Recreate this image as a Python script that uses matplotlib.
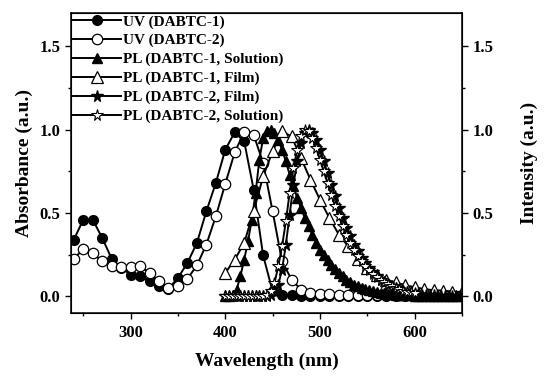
import matplotlib
matplotlib.use("Agg")
import matplotlib.pyplot as plt
import numpy as np

plt.rcParams['font.family'] = ['Liberation Serif', 'DejaVu Serif']
plt.rcParams['font.weight'] = 'bold'

# UV absorption (10 nm spacing)
uv_wl = [240, 250, 260, 270, 280, 290, 300, 310, 320, 330, 340, 350, 360, 370, 380,
         390, 400, 410, 420, 430, 440, 450, 460, 470, 480, 490, 500, 510, 520, 530,
         540, 550, 560, 570, 580, 590, 600]
uv1 = [0.34, 0.46, 0.46, 0.35, 0.225, 0.17, 0.13, 0.12, 0.09, 0.06, 0.045, 0.11, 0.20,
       0.32, 0.51, 0.68, 0.88, 0.985, 0.93, 0.64, 0.245, 0.03, 0.01, 0.005, 0.0, 0.0,
       0.0, 0.0, 0.0, 0.0, 0.0, 0.0, 0.0, 0.0, 0.0, 0.0, 0.0]
uv2 = [0.225, 0.283, 0.257, 0.21, 0.183, 0.175, 0.177, 0.18, 0.14, 0.09, 0.048, 0.06,
       0.105, 0.185, 0.31, 0.48, 0.675, 0.865, 0.985, 0.97, 0.80, 0.51, 0.21, 0.10, 0.04,
       0.02, 0.015, 0.012, 0.01, 0.01, 0.01, 0.01, 0.01, 0.01, 0.01, 0.01, 0.01]

# PL DABTC-1 film (10 nm spacing)
film1_wl = [400, 410, 420, 430, 440, 450, 460, 470, 480, 490, 500, 510, 520, 530, 540,
            550, 560, 570, 580, 590, 600, 610, 620, 630, 640, 650]
film1 = [0.14, 0.22, 0.32, 0.51, 0.72, 0.87, 0.99, 0.96, 0.83, 0.70, 0.58, 0.47, 0.37,
         0.30, 0.226, 0.17, 0.13, 0.10, 0.083, 0.067, 0.054, 0.044, 0.036, 0.034, 0.028,
         0.025]

# dense PL spectra (4 nm spacing)
pl_wl = [400, 404, 408, 412, 416, 420, 424, 428, 432, 436, 440, 444, 448, 452, 456,
         460, 464, 468, 472, 476, 480, 484, 488, 492, 496, 500, 504, 508, 512, 516,
         520, 524, 528, 532, 536, 540, 544, 548, 552, 556, 560, 564, 568, 572, 576,
         580, 584, 588, 592, 596, 600, 604, 608, 612, 616, 620, 624, 628, 632, 636,
         640, 644, 648]
sol1 = [0.0, 0.0, 0.01, 0.04, 0.12, 0.22, 0.33, 0.46, 0.62, 0.82, 0.95, 0.995, 1.0,
        0.98, 0.94, 0.88, 0.81, 0.73, 0.66, 0.59, 0.53, 0.47, 0.42, 0.37, 0.32, 0.28,
        0.25, 0.22, 0.19, 0.165, 0.14, 0.12, 0.10, 0.085, 0.07, 0.06, 0.05, 0.042,
        0.035, 0.03, 0.025, 0.02, 0.017, 0.014, 0.012, 0.01, 0.008, 0.007, 0.006,
        0.005, 0.004, 0.003, 0.003, 0.002, 0.002, 0.001, 0.001, 0.0, 0.0, 0.0, 0.0,
        0.0, 0.0]
film2 = [0.0, 0.0, 0.0, 0.0, 0.0, 0.0, 0.0, 0.0, 0.0, 0.0, 0.0, 0.0, 0.01, 0.03, 0.07,
         0.16, 0.31, 0.49, 0.67, 0.81, 0.92, 0.98, 1.0, 0.98, 0.94, 0.88, 0.81, 0.74,
         0.67, 0.60, 0.53, 0.47, 0.41, 0.36, 0.31, 0.27, 0.23, 0.20, 0.17, 0.145, 0.12,
         0.10, 0.085, 0.07, 0.058, 0.047, 0.038, 0.03, 0.024, 0.019, 0.015, 0.012,
         0.01, 0.008, 0.006, 0.005, 0.004, 0.003, 0.002, 0.002, 0.001, 0.001, 0.0]
sol2_wl = pl_wl[:51]
sol2 = [0.0, 0.0, 0.0, 0.0, 0.0, 0.0, 0.0, 0.0, 0.0, 0.0, 0.0, 0.01, 0.03, 0.08, 0.18,
        0.30, 0.45, 0.62, 0.77, 0.88, 0.96, 1.0, 0.99, 0.95, 0.89, 0.82, 0.75, 0.68,
        0.61, 0.54, 0.48, 0.42, 0.37, 0.32, 0.28, 0.24, 0.21, 0.18, 0.155, 0.135, 0.115,
        0.10, 0.085, 0.072, 0.06, 0.05, 0.041, 0.034, 0.028, 0.023, 0.019]

labels = ['UV (DABTC-1)', 'UV (DABTC-2)', 'PL (DABTC-1, Solution)',
          'PL (DABTC-1, Film)', 'PL (DABTC-2, Film)', 'PL (DABTC-2, Solution)']

fig = plt.figure(figsize=(5.46, 3.77), dpi=100)
ax = fig.add_axes([0.130, 0.170, 0.716, 0.795])

lw = 1.4
ax.plot(uv_wl, uv1, '-o', color='k', mfc='k', mec='k', ms=7, lw=lw, label=labels[0])
ax.plot(uv_wl, uv2, '-o', color='k', mfc='white', mec='k', ms=7.5, mew=0.9, lw=lw, label=labels[1])
ax.plot(pl_wl, sol1, '-^', color='k', mfc='k', mec='k', ms=7.5, lw=lw, label=labels[2])
ax.plot(film1_wl, film1, '-^', color='k', mfc='white', mec='k', ms=8.5, mew=0.9, lw=lw, label=labels[3])
ax.plot(pl_wl, film2, '-*', color='k', mfc='k', mec='k', ms=8.5, lw=lw, label=labels[4])
ax.plot(sol2_wl, sol2, '-*', color='k', mfc='white', mec='k', ms=8.5, mew=0.8, lw=lw, label=labels[5])

ax.set_xlim(237, 650)
ax.set_ylim(-0.1, 1.7)
ax.set_xticks([300, 400, 500, 600])
ax.set_xticks([250, 350, 450, 550, 650], minor=True)
ax.set_yticks([0.0, 0.5, 1.0, 1.5])
ax.set_yticks([0.25, 0.75, 1.25], minor=True)
ax.set_yticklabels(['0.0', '0.5', '1.0', '1.5'])
ax.tick_params(axis='both', which='major', direction='out', length=4, width=1.0,
               labelsize=12, top=False, right=False)
ax.tick_params(axis='x', which='major', pad=5)
ax.tick_params(axis='both', which='minor', direction='out', length=2.5, width=1.0,
               top=False, right=False)
for s in ax.spines.values():
    s.set_linewidth(1.1)
ax.set_xlabel('Wavelength (nm)', fontsize=14, fontweight='bold', labelpad=8)
ax.set_ylabel('Absorbance (a.u.)', fontsize=14, fontweight='bold', labelpad=5)

ax2 = ax.twinx()
ax2.set_ylim(-0.1, 1.7)
ax2.set_yticks([0.0, 0.5, 1.0, 1.5])
ax2.set_yticks([0.25, 0.75, 1.25], minor=True)
ax2.set_yticklabels(['0.0', '0.5', '1.0', '1.5'])
ax2.tick_params(axis='y', which='major', direction='out', length=4, width=1.0, labelsize=12)
ax2.tick_params(axis='y', which='minor', direction='out', length=2.5, width=1.0)
ax2.set_ylabel('Intensity (a.u.)', fontsize=14, fontweight='bold', labelpad=20)

leg = ax.legend(loc='upper left', frameon=False, handlelength=3.2,
                handletextpad=0.1, labelspacing=0.33, borderaxespad=0.1,
                borderpad=0.0, prop={'weight': 'bold', 'size': 11})

fig.savefig('out.png', dpi=100)
